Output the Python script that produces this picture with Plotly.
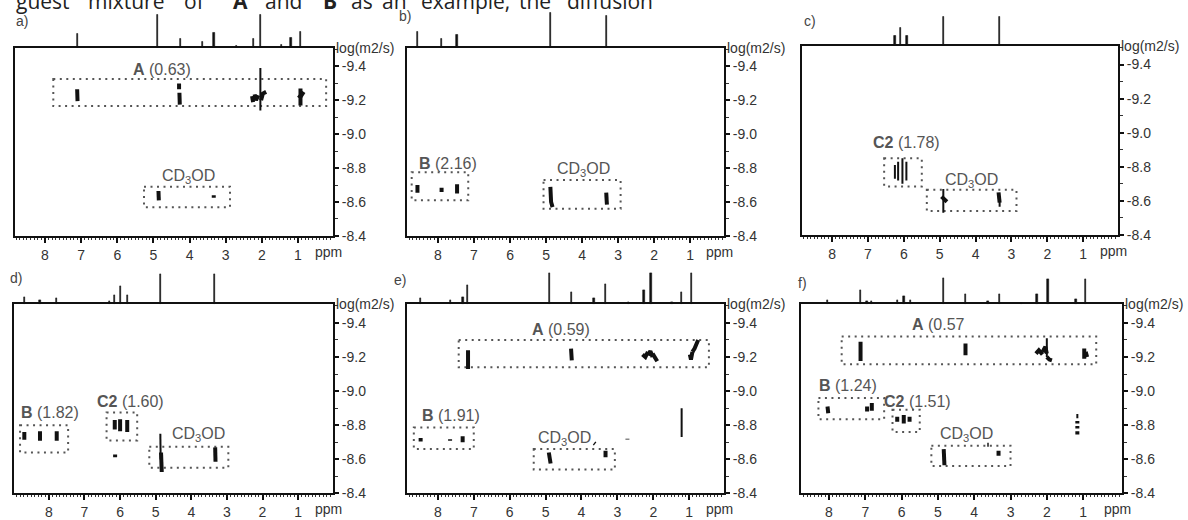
import plotly.graph_objects as go

W, H = 1188, 520

# ---------------- data ----------------
xtick_vals = [8, 7, 6, 5, 4, 3, 2, 1]
xtick_text = ["8", "7", "6", "5", "4", "3", "2", "1"]
ytick_vals = [-9.4, -9.2, -9.0, -8.8, -8.6, -8.4]
ytick_text = ["-9.4", "-9.2", "-9.0", "-8.8", "-8.6", "-8.4"]

# 1D projections: peak positions (ppm) and heights (arb.)
a_peak_ppm = [7.11, 4.88, 4.26, 3.65, 3.32, 2.70, 2.24, 2.04, 1.45, 1.19, 0.92]
a_peak_int = [14, 34, 9, 6, 15, 2, 9, 34, 3, 10, 16]
b_peak_ppm = [8.57, 7.90, 7.47, 4.88, 3.33]
b_peak_int = [16, 9, 13, 36, 33]
c_peak_ppm = [6.25, 6.09, 5.91, 4.89, 3.34]
c_peak_int = [10, 18, 10, 30, 30]
d_peak_ppm = [8.69, 8.25, 7.78, 6.30, 6.15, 5.98, 5.79, 4.86, 3.34]
d_peak_int = [7, 4, 6, 3, 9, 18, 9, 31, 31]
e_peak_ppm = [8.48, 7.64, 7.30, 7.17, 4.90, 4.28, 3.65, 3.34, 2.70, 2.26, 2.06, 1.48, 1.22, 0.94]
e_peak_int = [6, 4, 7, 19, 32, 12, 6, 21, 2, 14, 32, 2, 12, 32]
f_peak_ppm = [8.04, 7.13, 6.95, 6.82, 6.11, 5.93, 5.76, 4.85, 4.25, 3.62, 3.30, 2.70, 2.27, 1.97, 1.20, 0.93]
f_peak_int = [4, 14, 3, 3, 4, 8, 4, 27, 10, 3, 10, 1, 10, 26, 5, 26]

# DOSY cross peaks: polylines of (ppm, log D)
a_spots = [
    [(7.11, -9.265), (7.10, -9.195)],
    [(4.29, -9.300), (4.29, -9.265)],
    [(4.28, -9.245), (4.27, -9.175)],
    [(2.27, -9.225), (2.24, -9.190)],
    [(2.20, -9.235), (2.16, -9.200), (2.10, -9.230)],
    [(2.02, -9.200), (1.97, -9.240), (1.88, -9.250)],
    [(0.93, -9.270), (0.93, -9.170)],
    [(0.99, -9.230), (0.93, -9.220), (0.84, -9.250)],
    [(4.86, -8.665), (4.85, -8.610)],
    [(3.33, -8.640), (3.33, -8.625)],
]
a_lines = [[(2.04, -9.39), (2.04, -9.14)]]

b_spots = [
    [(8.57, -8.700), (8.57, -8.655)],
    [(7.90, -8.685), (7.90, -8.660)],
    [(7.47, -8.705), (7.47, -8.650)],
    [(4.88, -8.690), (4.86, -8.600), (4.82, -8.570)],
    [(3.33, -8.655), (3.31, -8.585)],
]
b_lines = []

c_spots = [
    [(4.95, -8.625), (4.88, -8.610), (4.80, -8.595)],
    [(3.36, -8.650), (3.33, -8.590)],
]
c_lines = [
    [(6.25, -8.810), (6.25, -8.730)],
    [(6.16, -8.830), (6.16, -8.720)],
    [(6.04, -8.850), (6.04, -8.700)],
    [(5.93, -8.830), (5.93, -8.720)],
    [(4.90, -8.670), (4.90, -8.530)],
    [(3.33, -8.600), (3.33, -8.565)],
]

d_spots = [
    [(8.69, -8.760), (8.69, -8.715)],
    [(8.25, -8.765), (8.25, -8.708)],
    [(7.78, -8.765), (7.78, -8.708)],
    [(6.15, -8.830), (6.15, -8.775)],
    [(6.00, -8.835), (6.00, -8.765)],
    [(5.80, -8.830), (5.80, -8.760)],
    [(6.14, -8.628), (6.14, -8.612)],
    [(4.85, -8.640), (4.83, -8.525)],
    [(3.33, -8.670), (3.32, -8.585)],
]
d_lines = [[(4.87, -8.750), (4.86, -8.600)]]

e_spots = [
    [(7.16, -9.240), (7.16, -9.130)],
    [(4.29, -9.250), (4.27, -9.180)],
    [(2.30, -9.215), (2.22, -9.200), (2.15, -9.230)],
    [(2.15, -9.210), (2.08, -9.235), (2.02, -9.200)],
    [(2.02, -9.220), (1.95, -9.190), (1.89, -9.175)],
    [(0.98, -9.215), (0.95, -9.185), (0.91, -9.230)],
    [(0.91, -9.230), (0.85, -9.250), (0.75, -9.300)],
    [(8.48, -8.725), (8.48, -8.705)],
    [(7.66, -8.718), (7.66, -8.708)],
    [(7.31, -8.735), (7.31, -8.700)],
    [(4.91, -8.640), (4.86, -8.575)],
    [(3.33, -8.650), (3.33, -8.612)],
    [(3.65, -8.695), (3.62, -8.690)],
    [(2.72, -8.720), (2.72, -8.716)],
]
e_lines = [[(1.21, -8.900), (1.21, -8.730)]]

f_spots = [
    [(7.13, -9.290), (7.13, -9.176)],
    [(4.24, -9.280), (4.24, -9.210)],
    [(2.30, -9.220), (2.22, -9.240), (2.12, -9.215)],
    [(2.12, -9.230), (2.04, -9.260), (2.00, -9.220)],
    [(2.00, -9.200), (1.93, -9.185), (1.86, -9.180)],
    [(0.97, -9.250), (0.97, -9.190)],
    [(0.93, -9.230), (0.89, -9.200)],
    [(8.04, -8.910), (8.02, -8.870)],
    [(6.95, -8.910), (6.95, -8.880)],
    [(6.82, -8.930), (6.82, -8.885)],
    [(6.12, -8.850), (6.12, -8.820)],
    [(5.94, -8.860), (5.94, -8.810)],
    [(5.78, -8.850), (5.78, -8.820)],
    [(1.16, -8.825), (1.16, -8.810)],
    [(1.16, -8.795), (1.16, -8.780)],
    [(1.16, -8.765), (1.16, -8.745)],
    [(4.84, -8.660), (4.82, -8.565)],
    [(3.33, -8.650), (3.33, -8.620)],
    [(3.64, -8.685), (3.60, -8.685)],
]
f_lines = [[(2.00, -9.310), (2.00, -9.200)], [(1.16, -8.865), (1.16, -8.840)]]

# dotted group boxes: (ppm_left, ppm_right, logD_top, logD_bottom)
a_boxes = [(7.77, 0.22, -9.326, -9.166), (5.26, 2.88, -8.690, -8.570)]
b_boxes = [(8.73, 7.16, -8.776, -8.610), (5.07, 2.93, -8.730, -8.560)]
c_boxes = [(6.55, 5.50, -8.850, -8.685), (5.36, 2.86, -8.666, -8.540)]
d_boxes = [(8.81, 7.46, -8.800, -8.640), (6.38, 5.52, -8.875, -8.710), (5.18, 2.96, -8.673, -8.550)]
e_boxes = [(7.42, 0.45, -9.300, -9.140), (8.67, 7.00, -8.787, -8.660), (5.33, 3.07, -8.660, -8.540)]
f_boxes = [(7.65, 0.64, -9.320, -9.157), (8.29, 6.48, -8.960, -8.835), (6.25, 5.50, -8.890, -8.760), (5.18, 3.00, -8.680, -8.560)]

# group labels: (text, ppm, logD)
a_labels = [("<b>A</b> (0.63)", 4.77, -9.380), ("CD<sub>3</sub>OD", 4.04, -8.750)]
b_labels = [("<b>B</b> (2.16)", 7.71, -8.825), ("CD<sub>3</sub>OD", 3.96, -8.790)]
c_labels = [("<b>C2</b> (1.78)", 5.94, -8.940), ("CD<sub>3</sub>OD", 4.11, -8.720)]
d_labels = [("<b>B</b> (1.82)", 7.97, -8.877), ("<b>C2</b> (1.60)", 5.70, -8.940), ("CD<sub>3</sub>OD", 3.79, -8.746)]
e_labels = [("<b>A</b> (0.59)", 4.58, -9.360), ("<b>B</b> (1.91)", 7.63, -8.855), ("CD<sub>3</sub>OD", 4.46, -8.720)]
f_labels = [("<b>A</b> (0.57", 4.99, -9.390), ("<b>B</b> (1.24)", 7.47, -9.030), ("<b>C2</b> (1.51)", 5.56, -8.940), ("CD<sub>3</sub>OD", 4.21, -8.745)]

panel_letters = ["a)", "b)", "c)", "d)", "e)", "f)"]

top_words = ["guest", "mixture", "of", "<b>A</b>", "and", "<b>B</b>", "as", "an", "example,", "the", "diffusion"]

# ---------------- layout geometry (pixels) ----------------
# left, right, top, bottom of 2D box, ppm at left, ppm at right
geo = [
    (15, 333, 49, 242, 8.83, 0.03),
    (407, 724, 49, 242, 8.86, 0.06),
    (802, 1118, 47, 241, 8.84, 0.03),
    (14, 333, 312, 506, 8.98, 0.02),
    (407, 724, 312, 506, 8.86, 0.03),
    (801, 1122, 312, 506, 8.77, -0.07),
]
letter_pos = [(22, 22), (405, 16), (810, 22), (16, 285), (400, 287), (802, 290)]
word_x = [15, 87, 183, 232, 264, 322, 350, 381, 420, 518, 566]

peaks = [(a_peak_ppm, a_peak_int), (b_peak_ppm, b_peak_int), (c_peak_ppm, c_peak_int),
         (d_peak_ppm, d_peak_int), (e_peak_ppm, e_peak_int), (f_peak_ppm, f_peak_int)]
spots = [a_spots, b_spots, c_spots, d_spots, e_spots, f_spots]
lines = [a_lines, b_lines, c_lines, d_lines, e_lines, f_lines]
boxes = [a_boxes, b_boxes, c_boxes, d_boxes, e_boxes, f_boxes]
labels = [a_labels, b_labels, c_labels, d_labels, e_labels, f_labels]

FONT = "Liberation Sans, Arial, sans-serif"
SPEC_H = 40  # px height of projection strip


def px(x):
    return x / W


def py(y):
    return 1 - y / H


def polyline_xy(polys):
    xs, ys = [], []
    for poly in polys:
        for (u, v) in poly:
            xs.append(u)
            ys.append(v)
        xs.append(None)
        ys.append(None)
    return xs, ys


fig = go.Figure()
layout = dict(width=W, height=H, margin=dict(l=0, r=0, t=0, b=0),
              paper_bgcolor="white", plot_bgcolor="white", showlegend=False,
              font=dict(family=FONT, color="#333"))
shapes = []
annotations = []

for i in range(6):
    L, R, T, B, xl, xr = geo[i]
    k2d = 2 * i + 1
    ksp = 2 * i + 2
    xa2d = "xaxis" if k2d == 1 else f"xaxis{k2d}"
    ya2d = "yaxis" if k2d == 1 else f"yaxis{k2d}"
    xr2d = "x" if k2d == 1 else f"x{k2d}"
    yr2d = "y" if k2d == 1 else f"y{k2d}"
    xasp, yasp = f"xaxis{ksp}", f"yaxis{ksp}"
    xrsp, yrsp = f"x{ksp}", f"y{ksp}"

    layout[xa2d] = dict(domain=[px(L), px(R)], range=[xl, xr], anchor=yr2d,
                        showline=True, linecolor="#111", linewidth=2, mirror=True,
                        ticks="outside", ticklen=5, tickwidth=1.5, tickcolor="#111",
                        tickvals=xtick_vals, ticktext=xtick_text,
                        minor=dict(dtick=0.1, tick0=0, ticks="outside", ticklen=2, tickcolor="#333", tickwidth=1),
                        tickfont=dict(size=14, color="#333", family=FONT),
                        showgrid=False, zeroline=False, fixedrange=True)
    layout[ya2d] = dict(domain=[py(B), py(T)], range=[-8.4, -9.51], anchor=xr2d, side="right",
                        showline=True, linecolor="#111", linewidth=2, mirror=True,
                        ticks="outside", ticklen=4, tickwidth=1.5, tickcolor="#111",
                        tickvals=ytick_vals, ticktext=ytick_text,
                        minor=dict(dtick=0.1, tick0=0, ticks="outside", ticklen=3, tickcolor="#333", tickwidth=1),
                        tickfont=dict(size=14, color="#333", family=FONT),
                        showgrid=False, zeroline=False, fixedrange=True)
    layout[xasp] = dict(domain=[px(L), px(R)], range=[xl, xr], anchor=yrsp, visible=False, fixedrange=True)
    layout[yasp] = dict(domain=[py(T), py(T - SPEC_H)], range=[0, SPEC_H], anchor=xrsp, visible=False,
                        fixedrange=True)

    pp, pi = peaks[i]
    fig.add_trace(go.Bar(x=pp, y=pi, width=0.035, marker=dict(color="#111", line=dict(width=0.6, color="#111")),
                         xaxis=xrsp, yaxis=yrsp, hoverinfo="skip"))

    sx, sy = polyline_xy(spots[i])
    fig.add_trace(go.Scatter(x=sx, y=sy, mode="lines", line=dict(color="#111", width=4),
                             xaxis=xr2d, yaxis=yr2d, hoverinfo="skip"))
    if lines[i]:
        lx, ly = polyline_xy(lines[i])
        fig.add_trace(go.Scatter(x=lx, y=ly, mode="lines", line=dict(color="#111", width=2),
                                 xaxis=xr2d, yaxis=yr2d, hoverinfo="skip"))

    for (x0, x1, y0, y1) in boxes[i]:
        shapes.append(dict(type="rect", xref=xr2d, yref=yr2d, x0=x0, x1=x1, y0=y0, y1=y1,
                           line=dict(color="#555", width=2, dash="2px,4.5px"), layer="below"))
    for (txt, lx0, ly0) in labels[i]:
        annotations.append(dict(text=txt, x=lx0, y=ly0, xref=xr2d, yref=yr2d, showarrow=False,
                                xanchor="center", yanchor="middle",
                                font=dict(size=16, color="#555", family=FONT)))

    # axis titles
    annotations.append(dict(text="log(m2/s)", xref=f"{xr2d} domain", yref=f"{yr2d} domain",
                            x=1, y=1, xanchor="left", yanchor="middle", xshift=1, showarrow=False,
                            font=dict(size=14, color="#333", family=FONT)))
    annotations.append(dict(text="ppm", xref=f"{xr2d} domain", yref=f"{yr2d} domain",
                            x=0.985, y=0, xanchor="center", yanchor="top", yshift=-6, showarrow=False,
                            font=dict(size=14, color="#333", family=FONT)))
    lx_, ly_ = letter_pos[i]
    annotations.append(dict(text=panel_letters[i], xref="paper", yref="paper", x=px(lx_), y=py(ly_),
                            xanchor="center", yanchor="middle", showarrow=False,
                            font=dict(size=14, color="#444", family=FONT)))

for wtxt, wx in zip(top_words, word_x):
    annotations.append(dict(text=wtxt, xref="paper", yref="paper", x=px(wx), y=py(16),
                            xanchor="left", yanchor="bottom", showarrow=False, borderpad=0,
                            font=dict(size=21, color="#222", family="Open Sans")))

layout["shapes"] = shapes
layout["annotations"] = annotations
layout["bargap"] = 0
fig.update_layout(**layout)

fig.write_html("out.html", config={"displayModeBar": False},
               post_script="document.body.style.margin='0';")
